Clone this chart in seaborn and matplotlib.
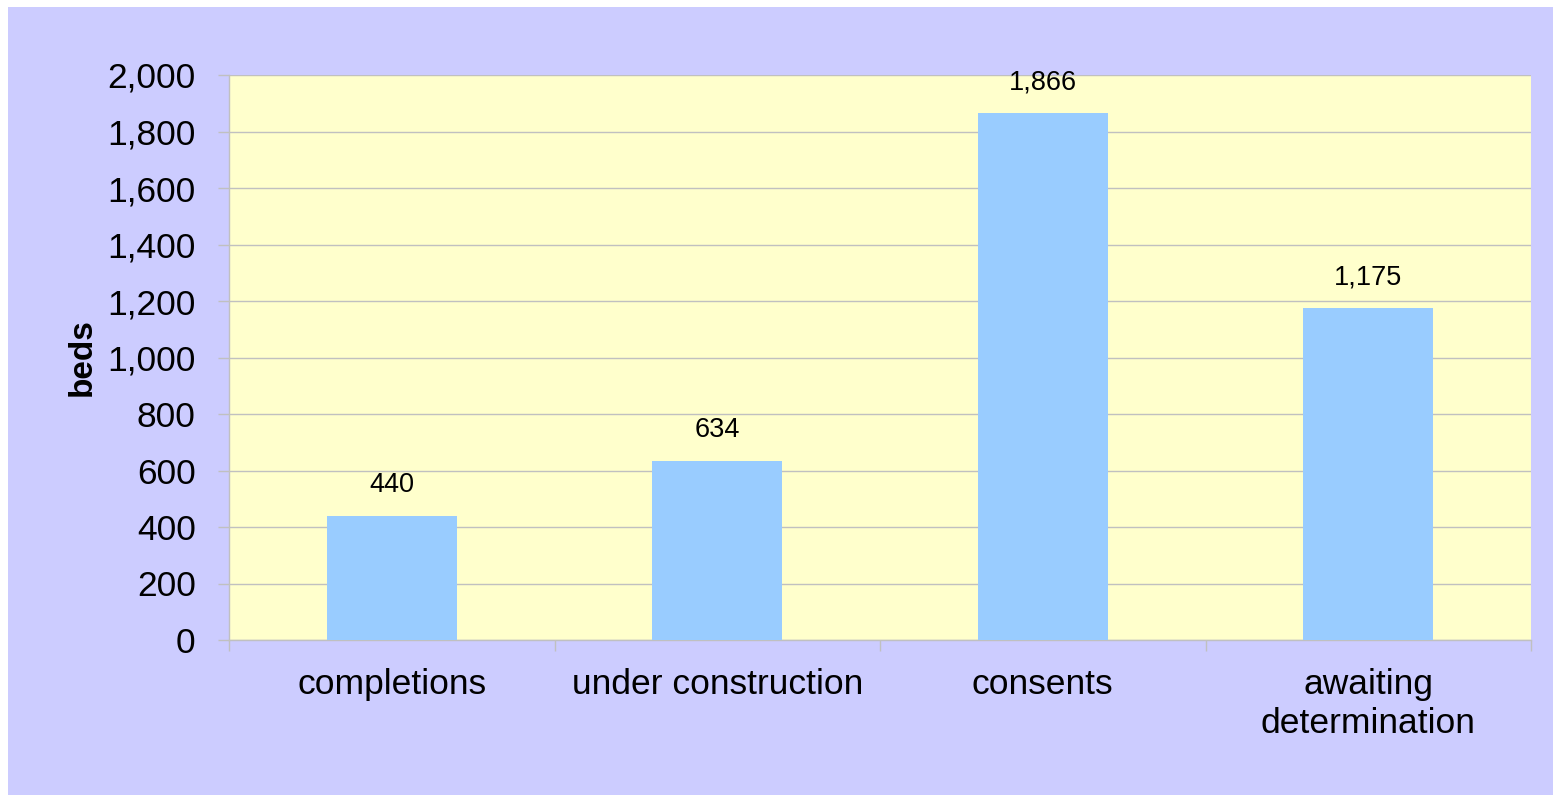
import matplotlib
matplotlib.use("Agg")
import matplotlib.pyplot as plt
import seaborn as sns
from matplotlib.patches import Rectangle
from matplotlib.ticker import FuncFormatter, FixedLocator

categories = ["completions", "under construction", "consents", "awaiting\ndetermination"]
beds = [440, 634, 1866, 1175]
y_ticks = list(range(0, 2001, 200))

sns.set_style("white")
plt.rcParams['font.family'] = ['Liberation Sans', 'DejaVu Sans']
plt.rcParams['text.color'] = 'black'
plt.rcParams['xtick.labelcolor'] = 'black'
plt.rcParams['ytick.labelcolor'] = 'black'
plt.rcParams['axes.labelcolor'] = 'black'

fig = plt.figure(figsize=(15.53, 7.95), dpi=100, facecolor="white")
fig.patches.append(Rectangle((8 / 1553, 0), 1, 1 - 7 / 795, transform=fig.transFigure,
                             facecolor="#CCCCFF", edgecolor="none", zorder=-10))
ax = fig.add_axes([229 / 1553, 1 - 640 / 795, (1531 - 229) / 1553, (640 - 75) / 795])
ax.set_zorder(1)
ax.set_facecolor("#FFFFCC")

sns.barplot(x=categories, y=beds, color="#99CCFF", saturation=1, width=0.4, ax=ax,
            edgecolor="none", linewidth=0, zorder=3)

ax.set_ylim(0, 2000)
ax.set_xlim(-0.5, 3.5)
ax.set_yticks(y_ticks)
ax.yaxis.set_major_formatter(FuncFormatter(lambda v, p: f"{int(v):,}"))
ax.grid(axis="y", color="#C0C0C0", lw=1, zorder=0)
ax.set_axisbelow(True)

for s in ["top", "right"]:
    ax.spines[s].set_visible(False)
for s in ["left", "bottom"]:
    ax.spines[s].set_color("#C0C0C0")
    ax.spines[s].set_linewidth(1)

ax.tick_params(axis="y", direction="out", length=8, color="#C0C0C0", width=1,
               labelsize=25.5, labelcolor="black", pad=16, left=True)
ax.tick_params(axis="x", which="major", length=0, labelsize=25.5, labelcolor="black", pad=20.5)
ax.xaxis.set_minor_locator(FixedLocator([-0.5, 0.5, 1.5, 2.5, 3.5]))
ax.tick_params(axis="x", which="minor", direction="out", length=8, color="#C0C0C0",
               width=1, bottom=True)

ax.set_xlabel("")
ax.set_ylabel("beds", fontsize=24, fontweight="bold", color="black", labelpad=7)

for i, v in enumerate(beds):
    ax.annotate(f"{v:,}", (i, v), xytext=(0, 22), textcoords="offset points",
                ha="center", va="center", fontsize=19.5, color="black",
                annotation_clip=False, zorder=5)

fig.savefig("out.png", dpi=100, facecolor=fig.get_facecolor())
